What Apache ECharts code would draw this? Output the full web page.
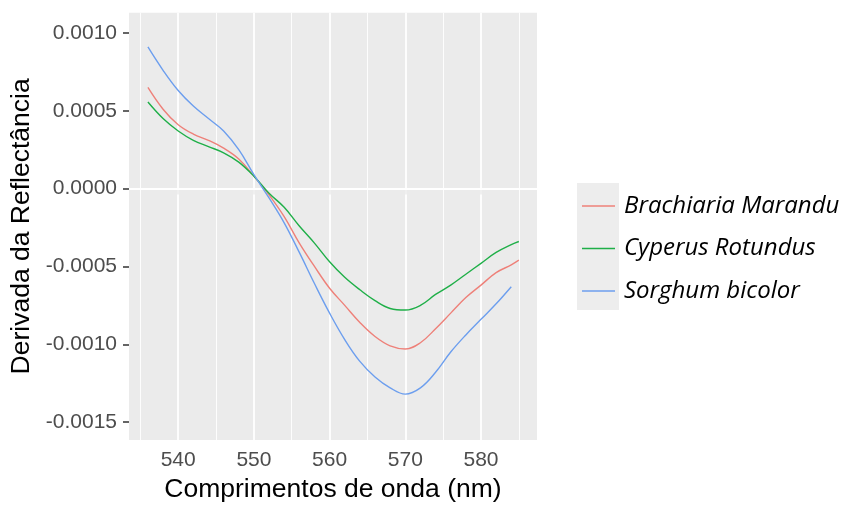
<!DOCTYPE html>
<html>
<head>
<meta charset="utf-8">
<title>Derivada da Reflectância</title>
<script src="https://cdn.jsdelivr.net/npm/echarts@6/dist/echarts.min.js"></script>
<style>
  html, body { margin: 0; padding: 0; background: #ffffff; }
  #chart { width: 843px; height: 508px; }
</style>
</head>
<body>
<div id="chart"></div>
<script>
// Wavelengths (nm) at which the first-derivative reflectance is sampled
const wavelengths = [536, 538, 540, 542, 544, 546, 548, 550, 552, 554, 556, 558, 560,
                     562, 564, 566, 568, 570, 572, 574, 576, 578, 580, 582, 584, 585];

// First derivative of reflectance for each species
const brachiaria = [0.00065, 0.00051, 0.00041, 0.00035, 0.00031, 0.00026, 0.00019, 0.00008,
                    -0.00004, -0.00018, -0.00035, -0.00050, -0.00064, -0.00075, -0.00086,
                    -0.00095, -0.00101, -0.00103, -0.00099, -0.00090, -0.00080, -0.00070,
                    -0.00062, -0.00054, -0.00049, -0.00046];
const cyperus = [0.000556, 0.00045, 0.00037, 0.00031, 0.00027, 0.00023, 0.00017, 0.00008,
                 -0.00003, -0.00012, -0.00024, -0.00035, -0.00047, -0.00057, -0.00065,
                 -0.00072, -0.00077, -0.00078, -0.00075, -0.00068, -0.00062, -0.00055,
                 -0.00048, -0.00041, -0.00036, -0.00034];
const sorghumWavelengths = wavelengths.slice(0, 25); // series stops at 584 nm
const sorghum = [0.00091, 0.00076, 0.00063, 0.00053, 0.00045, 0.00037, 0.00025, 0.00009,
                 -0.00006, -0.00022, -0.00041, -0.00061, -0.00080, -0.00097, -0.00111,
                 -0.00121, -0.00128, -0.00132, -0.00128, -0.00118, -0.00105, -0.00094,
                 -0.00084, -0.00074, -0.00063];

// Axis breaks
const xMajor = [540, 550, 560, 570, 580];
const xMinor = [535, 545, 555, 565, 575, 585];
const yMajor = [-0.0015, -0.0010, -0.0005, 0.0000, 0.0005, 0.0010];
const yMinor = [-0.00125, -0.00075, -0.00025, 0.00025, 0.00075];

const seriesNames = ['Brachiaria Marandu', 'Cyperus Rotundus', 'Sorghum bicolor'];
const seriesColors = ['#EE8079', '#1FAF48', '#6C9EEE'];

const pairs = (xs, ys) => ys.map((y, i) => [xs[i], y]);

const chart = echarts.init(document.getElementById('chart'), null, { renderer: 'canvas' });

const gridLine = (key, v, w) => ({ [key]: v, lineStyle: { color: '#FFFFFF', width: w, type: 'solid' } });

const speciesSeries = (i, xs, ys) => ({
  name: seriesNames[i], type: 'line', smooth: 0.4, symbol: 'none', showSymbol: false, z: 10,
  color: seriesColors[i], lineStyle: { width: 1.4 },
  data: pairs(xs, ys)
});

const option = {
  animation: false,
  backgroundColor: '#FFFFFF',
  grid: {
    left: 129, top: 12.7, right: 306, bottom: 65,
    show: true, backgroundColor: '#EBEBEB', borderWidth: 0
  },
  xAxis: {
    type: 'value',
    min: 533.5, max: 587.4,
    name: 'Comprimentos de onda (nm)',
    nameLocation: 'middle',
    nameGap: 36,
    nameTextStyle: { fontFamily: 'Liberation Sans', fontSize: 26.5, color: '#000000' },
    axisLine: { show: false },
    axisTick: { show: true, customValues: xMajor, length: 6, lineStyle: { color: '#333333', width: 1.5 } },
    axisLabel: { customValues: xMajor, margin: 10, fontFamily: 'Liberation Sans', fontSize: 21, color: '#4D4D4D' },
    splitLine: { show: false }
  },
  yAxis: {
    type: 'value',
    min: -0.001615, max: 0.00113,
    name: 'Derivada da Reflectância',
    nameLocation: 'middle',
    nameGap: 94,
    nameTextStyle: { fontFamily: 'Liberation Sans', fontSize: 26.5, color: '#000000' },
    axisLine: { show: false },
    axisTick: { show: true, customValues: yMajor, length: 6, lineStyle: { color: '#333333', width: 1.5 } },
    axisLabel: {
      customValues: yMajor, margin: 12, fontFamily: 'Liberation Sans', fontSize: 21, color: '#4D4D4D',
      formatter: v => v.toFixed(4)
    },
    splitLine: { show: false }
  },
  legend: {
    orient: 'vertical',
    left: 582, top: 194,
    padding: 0,
    icon: 'rect',
    itemWidth: 33, itemHeight: 1.5, itemGap: 18.5,
    data: seriesNames,
    textStyle: {
      fontFamily: 'Open Sans', fontStyle: 'italic', fontSize: 24, color: '#000000',
      lineHeight: 24, padding: [0, 0, 0, 4]
    }
  },
  graphic: [{
    type: 'rect', z: 0, silent: true,
    shape: { x: 577, y: 183, width: 42, height: 127 },
    style: { fill: '#EDEDED' }
  }],
  series: [
    {
      // panel grid lines, kept beneath the curves
      name: 'grid', type: 'line', data: [], silent: true, z: 1,
      markLine: {
        z: 1, silent: true, symbol: ['none', 'none'], label: { show: false }, animation: false,
        data: [
          ...xMinor.map(v => gridLine('xAxis', v, 0.9)),
          ...yMinor.map(v => gridLine('yAxis', v, 0.9)),
          ...xMajor.map(v => gridLine('xAxis', v, 1.8)),
          ...yMajor.map(v => gridLine('yAxis', v, 1.8))
        ]
      }
    },
    speciesSeries(0, wavelengths, brachiaria),
    speciesSeries(1, wavelengths, cyperus),
    speciesSeries(2, sorghumWavelengths, sorghum)
  ]
};

chart.setOption(option);
</script>
</body>
</html>
